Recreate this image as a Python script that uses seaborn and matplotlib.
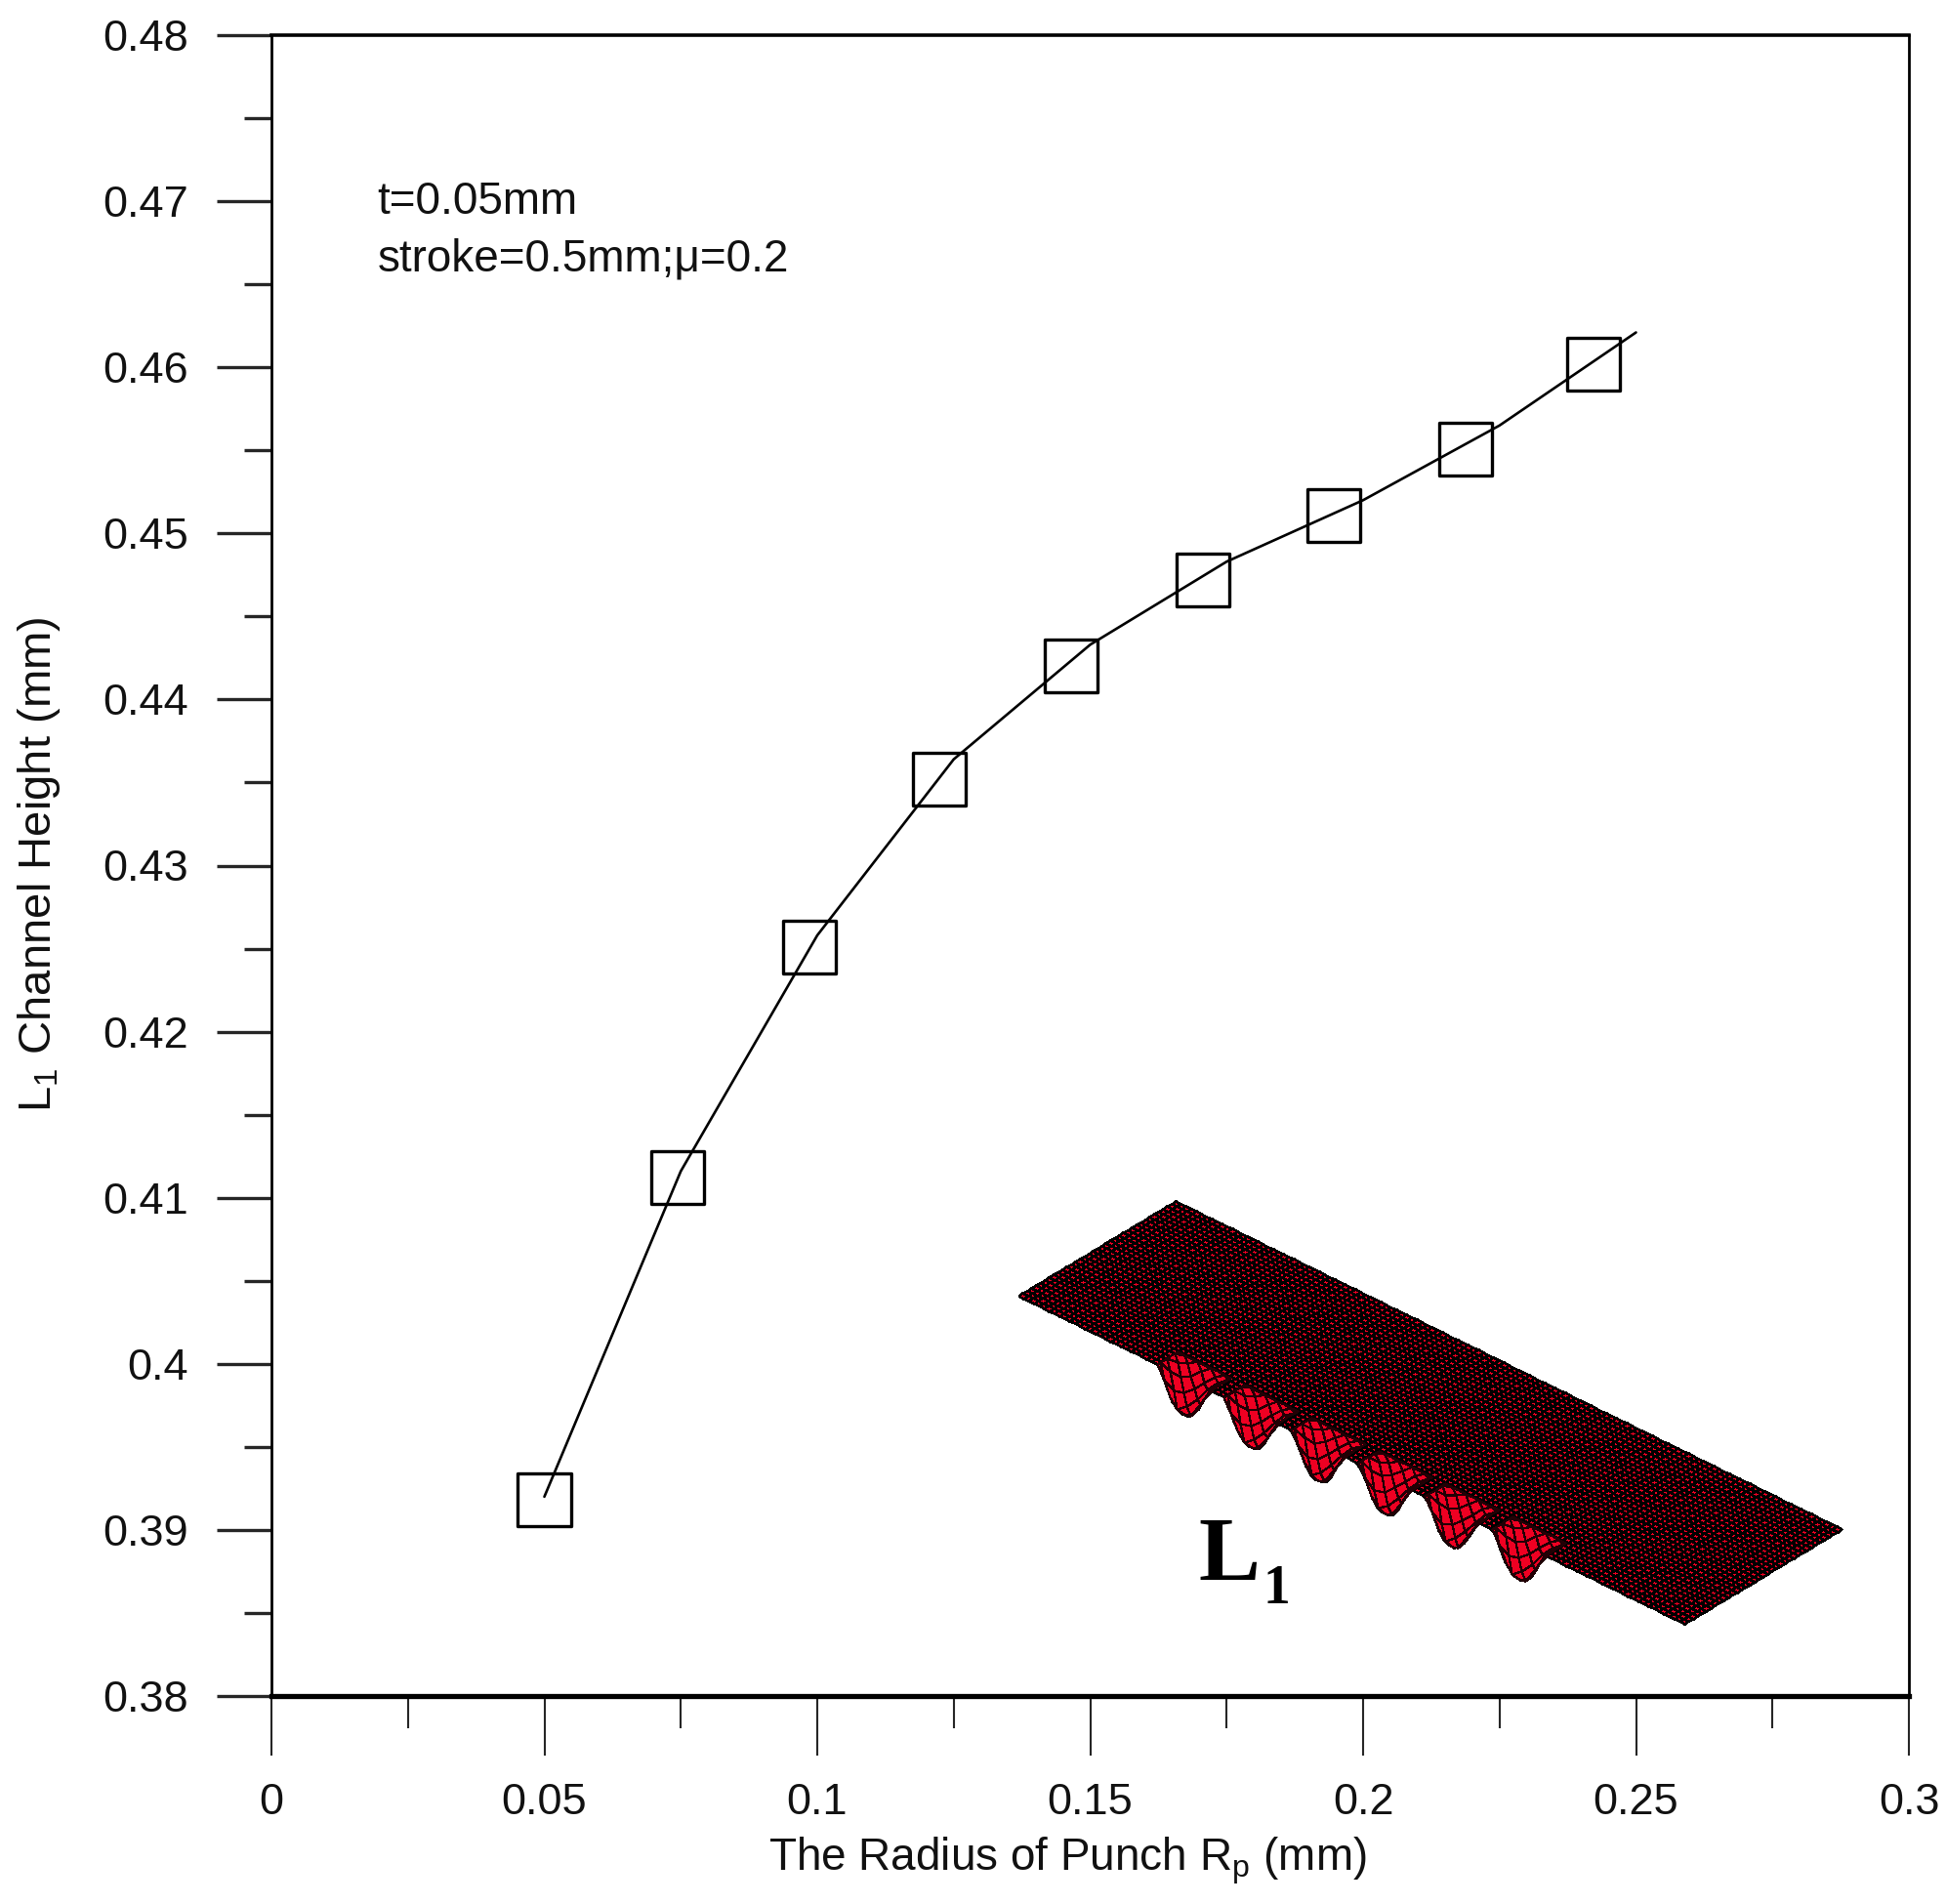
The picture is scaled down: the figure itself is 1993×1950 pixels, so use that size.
import numpy as np
import pandas as pd
import matplotlib
matplotlib.use('Agg')
import matplotlib.pyplot as plt
from matplotlib.colors import ListedColormap
from matplotlib.ticker import FixedLocator, FixedFormatter
import seaborn as sns

# --- data ---
line_x = [0.05, 0.075, 0.1, 0.125, 0.15, 0.175, 0.2, 0.225, 0.25]
line_y = [0.392, 0.4116, 0.4258, 0.4364, 0.4433, 0.4483, 0.4520, 0.4565, 0.4621]

marker_x = [0.05, 0.0744, 0.0986, 0.1223, 0.1465, 0.1707, 0.1946, 0.2187, 0.2423]
marker_y = [0.3918, 0.4112, 0.4251, 0.4352, 0.4420, 0.4472, 0.4511, 0.4551, 0.4602]

x_major = [0, 0.05, 0.1, 0.15, 0.2, 0.25, 0.3]
x_minor = [0.025, 0.075, 0.125, 0.175, 0.225, 0.275]
x_labels = ['0', '0.05', '0.1', '0.15', '0.2', '0.25', '0.3']
y_major = [0.38, 0.39, 0.4, 0.41, 0.42, 0.43, 0.44, 0.45, 0.46, 0.47, 0.48]
y_minor = [0.385, 0.395, 0.405, 0.415, 0.425, 0.435, 0.445, 0.455, 0.465, 0.475]
y_labels = ['0.38', '0.39', '0.4', '0.41', '0.42', '0.43', '0.44', '0.45', '0.46', '0.47', '0.48']

W, H = 1993, 1950

sns.set_style('white')
plt.rcParams['font.family'] = ['Liberation Sans', 'DejaVu Sans']
plt.rcParams['mathtext.fontset'] = 'custom'
plt.rcParams['mathtext.rm'] = 'Liberation Sans'
plt.rcParams['mathtext.default'] = 'rm'

fig = plt.figure(figsize=(W / 100, H / 100), dpi=100)
ax = fig.add_axes([278 / W, 1 - 1737 / H, (1955 - 278) / W, (1737 - 36) / H])

df_line = pd.DataFrame({'x': line_x, 'y': line_y})
df_mark = pd.DataFrame({'x': marker_x, 'y': marker_y})

sns.lineplot(data=df_line, x='x', y='y', color='black', linewidth=1.9, ax=ax, zorder=3)
sns.scatterplot(data=df_mark, x='x', y='y', marker='s', s=1513, facecolor='none',
                edgecolor='black', linewidth=2.4, ax=ax, zorder=4, clip_on=False)

ax.set_xlim(0, 0.3)
ax.set_ylim(0.38, 0.48)
ax.xaxis.set_major_locator(FixedLocator(x_major))
ax.xaxis.set_major_formatter(FixedFormatter(x_labels))
ax.xaxis.set_minor_locator(FixedLocator(x_minor))
ax.yaxis.set_major_locator(FixedLocator(y_major))
ax.yaxis.set_major_formatter(FixedFormatter(y_labels))
ax.yaxis.set_minor_locator(FixedLocator(y_minor))

ax.tick_params(axis='x', which='major', bottom=True, length=44, width=1.5, pad=20,
               labelsize=32.5, labelcolor='#111111')
ax.tick_params(axis='x', which='minor', bottom=True, length=24, width=1.5)
ax.tick_params(axis='y', which='major', left=True, length=40, width=2.4, pad=21,
               labelsize=32.5, labelcolor='#111111')
ax.tick_params(axis='y', which='minor', left=True, length=20, width=2.4)

for side, lw in [('left', 2.0), ('right', 2.0), ('top', 2.6), ('bottom', 3.8)]:
    ax.spines[side].set_visible(True)
    ax.spines[side].set_linewidth(lw)
    ax.spines[side].set_color('black')

ax.set_xlabel('')
ax.set_ylabel('')
fig.text(1093 / W, 1 - 1916 / H, r'The Radius of Punch R$_{\mathrm{p}}$ (mm)', fontsize=33,
         ha='center', va='baseline', color='#111111')
fig.text(40 / W, 1 - 885 / H, r'L$_{\mathrm{1}}$ Channel Height (mm)', fontsize=34, rotation=90,
         ha='center', va='center', color='#111111')
fig.text(386 / W, 1 - 219 / H, 't=0.05mm', fontsize=33, color='#111111', va='baseline')
fig.text(387 / W, 1 - 278 / H, 'stroke=0.5mm;\u03bc=0.2', fontsize=33, color='#111111', va='baseline')

# --- deformed sheet picture, laid over the plot in pixel coordinates ---
over = fig.add_axes([0, 0, 1, 1], facecolor='none')
over.set_xlim(0, W)
over.set_ylim(H, 0)
over.axis('off')

left_c = np.array([1043, 1327])
bottom_c = np.array([1725, 1663])
top_c = np.array([1204, 1230])
bump_c = [0.248 + k * 0.1006 for k in range(6)]
bump_w = 0.04
bump_v = 0.13


def sheet(T, V):
    # flat sheet with six fingers pushed down along the lower edge
    bump = np.zeros_like(T)
    for c in bump_c:
        d = np.clip(np.abs(T - c) / bump_w, 0, 1)
        bump += (1 - d ** 2.4) ** 1.6
    depth = 38 * np.clip(1 - V / bump_v, 0, 1) ** 1.1 * bump
    X = left_c[0] + T * (bottom_c[0] - left_c[0]) + V * (top_c[0] - left_c[0])
    Y = left_c[1] + T * (bottom_c[1] - left_c[1]) + V * (top_c[1] - left_c[1]) + depth
    return X, Y


red = ListedColormap(['#ee0022'])

# dense part of the mesh
T, V = np.meshgrid(np.linspace(0, 1, 131), np.linspace(0, 1, 37))
X, Y = sheet(T, V)
over.pcolormesh(X, Y, np.zeros((X.shape[0] - 1, X.shape[1] - 1)),
                cmap=red, edgecolors='black', linewidth=1.05)

# coarser diamond cells on the fingers
p, q = np.meshgrid(np.linspace(-1, 1, 9), np.linspace(-1, 1, 9))
for c in bump_c:
    T = np.clip(c + bump_w * (p + q), c - bump_w, c + bump_w)
    V = np.clip(bump_v * (0.5 + 0.7 * (p - q)), 0, bump_v)
    X, Y = sheet(T, V)
    over.pcolormesh(X, Y, np.zeros((X.shape[0] - 1, X.shape[1] - 1)),
                    cmap=red, edgecolors='#220005', linewidth=0.9)

fig.text(1227 / W, 1 - 1618 / H, 'L', fontsize=68, fontweight='bold', family='Liberation Serif',
         color='black', va='baseline')
fig.text(1293 / W, 1 - 1642 / H, '1', fontsize=40, fontweight='bold', family='Liberation Serif',
         color='black', va='baseline')

fig.savefig('out.png', dpi=100)
